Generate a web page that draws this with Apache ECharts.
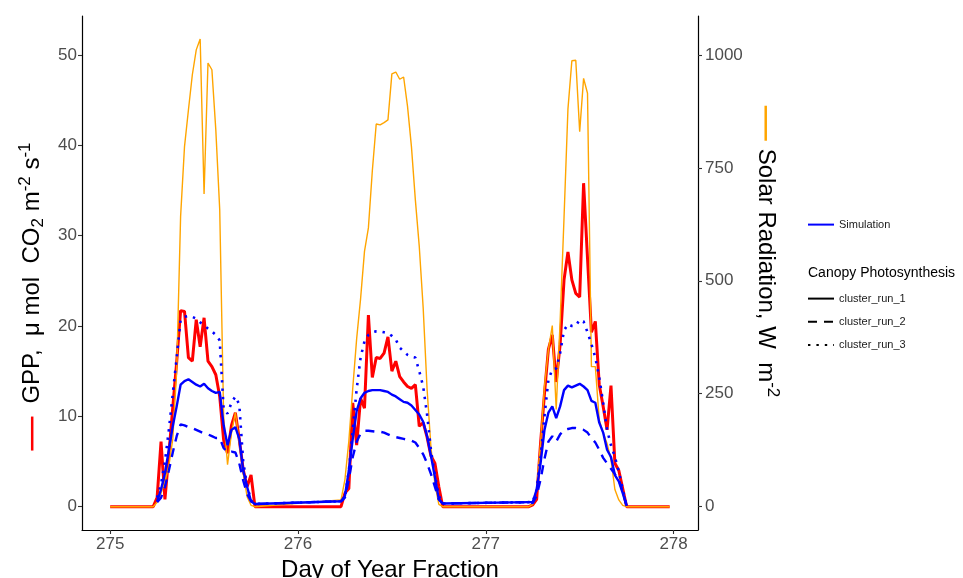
<!DOCTYPE html>
<html>
<head>
<meta charset="utf-8">
<script src="https://cdn.jsdelivr.net/npm/echarts@6/dist/echarts.min.js"></script>
<style>
  html, body { margin: 0; padding: 0; background: #fff; }
  #chart { width: 963px; height: 578px; }
</style>
</head>
<body>
<div id="chart"></div>
<script>
  // half-hourly values, one list per day, starting at slot 11 (05:30)
  const dayStarts = [275, 276, 277]
  const firstSlot = 11
  const seriesStart = 275
  const seriesEnd = 277 + 47 / 48

  const gppObserved = [
    [0, 1.0, 7.2, 0.8, 5.8, 11.0, 16.0, 21.7, 21.6, 16.5, 16.1, 20.7, 17.7, 20.9, 16.1, 15.5, 14.6, 12.2, 7.4, 5.9, 9.0, 10.4, 7.4, 4.1, 2.2, 3.5, 0],
    [0, 1.5, 2.0, 11.5, 6.8, 12.0, 10.9, 21.2, 14.3, 16.5, 16.4, 17.0, 18.8, 15.0, 16.1, 14.4, 13.8, 13.3, 13.1, 13.5, 8.9, 9.3, 7.7, 5.6, 4.8, 2.2, 0],
    [0, 0.2, 0.8, 7.0, 12.5, 17.4, 19.0, 13.8, 17.9, 25.1, 28.2, 25.1, 23.6, 23.2, 35.8, 27.5, 19.3, 20.5, 13.5, 11.1, 8.5, 13.4, 4.8, 4.0, 2.0, 0, 0]
  ]
  const solarRadiation = [
    [0, 10, 30, 55, 90, 150, 300, 642, 797, 878, 956, 1011, 1035, 692, 982, 967, 834, 657, 200, 93, 163, 208, 141, 75, 22, 3, 0],
    [15, 60, 145, 262, 372, 460, 565, 617, 743, 847, 845, 850, 856, 958, 962, 946, 951, 886, 797, 679, 576, 440, 260, 130, 50, 5, 0],
    [0, 5, 38, 141, 266, 347, 401, 215, 410, 640, 880, 987, 988, 830, 948, 915, 310, 310, 192, 163, 140, 104, 38, 15, 3, 0, 0]
  ]
  const clusterRun1 = [
    [null, 0.6, 1.9, 3.7, 6.3, 8.9, 11.1, 13.5, 13.9, 14.1, 13.8, 13.5, 13.3, 13.6, 13.1, 12.8, 12.6, 12.7, 9.0, 6.8, 8.5, 8.8, 7.5, 4.0, 2.2, 0.6, 0.3],
    [0.6, 1.2, 4.0, 7.5, 10.6, 12.0, 12.6, 12.8, 12.9, 12.9, 12.9, 12.8, 12.7, 12.4, 12.2, 11.9, 11.6, 11.5, 11.2, 10.7, 10.2, 9.4, 7.8, 5.6, 3.3, 0.8, 0.35],
    [0.5, 0.5, 1.9, 4.8, 8.5, 10.4, 11.1, 9.8, 11.1, 12.9, 13.4, 13.2, 13.4, 13.6, 13.3, 12.9, 11.7, 11.5, 9.3, 8.2, 6.3, 5.5, 3.5, 2.8, 1.5, 0.1, null]
  ]
  const clusterRun2 = [
    [null, 0.5, 1.0, 2.2, 4.0, 6.0, 7.8, 9.1, 9.0, 8.8, 8.7, 8.5, 8.3, 8.1, 8.0, 7.8, 7.6, 7.6, 6.5, 6.0, 6.1, 6.0, 4.8, 2.9, 1.4, 0.6, 0.3],
    [0.6, 1.0, 3.0, 5.5, 7.2, 8.1, 8.4, 8.4, 8.35, 8.3, 8.3, 8.2, 8.0, 7.8, 7.7, 7.6, 7.5, 7.4, 7.3, 7.1, 6.5, 5.8, 4.8, 3.6, 2.2, 0.8, 0.35],
    [0.5, 0.4, 1.2, 3.0, 5.3, 7.2, 7.8, 7.2, 8.0, 8.5, 8.6, 8.7, 8.7, 8.6, 8.5, 8.2, 7.6, 7.1, 6.3, 5.4, 4.8, 4.2, 3.6, 3.0, 1.7, 0.1, null]
  ]
  const clusterRun3 = [
    [null, 1.0, 2.5, 5.0, 8.5, 12.5, 16.5, 20.7, 21.0, 21.1, 21.0, 20.8, 20.4, 20.1, 19.7, 19.4, 19.0, 18.4, 10.8, 10.3, 11.5, 12.2, 11.3, 5.0, 2.3, 0.7, 0.3],
    [0.6, 1.0, 4.0, 8.5, 13.0, 16.5, 18.3, 19.0, 19.3, 19.4, 19.4, 19.3, 19.2, 18.9, 18.5, 17.6, 17.2, 16.8, 16.6, 16.5, 15.0, 13.3, 10.2, 6.2, 3.5, 1.2, 0.35],
    [0.5, 0.5, 1.9, 5.5, 10.0, 14.0, 15.2, 15.3, 17.0, 19.5, 20.2, 20.0, 20.0, 20.7, 20.5, 19.3, 18.0, 16.5, 14.3, 11.5, 8.5, 6.8, 5.5, 3.9, 1.9, 0.1, null]
  ]

  const xTicks = [275, 276, 277, 278]
  const gppTicks = [0, 10, 20, 30, 40, 50]
  const solarTicks = [0, 250, 500, 750, 1000]

  function toPoints (days) {
    const pts = []
    days.forEach((vals, d) => {
      vals.forEach((v, i) => {
        if (v !== null) pts.push([dayStarts[d] + (firstSlot + i) / 48, v])
      })
    })
    return pts
  }
  function withNightEnds (pts) {
    return [[seriesStart, 0]].concat(pts, [[seriesEnd, 0]])
  }

  const tickColor = '#4D4D4D'
  const labelFont = { color: tickColor, fontSize: 17, fontFamily: 'Liberation Sans', formatter: v => String(v) }
  const axisLine = { show: true, onZero: false, lineStyle: { color: '#000', width: 1.2 } }
  const axisTick = { show: true, length: 4, lineStyle: { color: '#333', width: 1.1 } }
  const legendText = { fontSize: 11, color: '#1a1a1a', fontFamily: 'Liberation Sans' }
  const blackKey = name => ({ name: name, itemStyle: { color: '#000', opacity: 0 }, lineStyle: { color: '#000' } })

  const titleRich = (lineColor, lineLen, gap) => ({
    t: { fontSize: 24, color: '#000', fontFamily: 'Liberation Sans', lineHeight: 30 },
    sub: { fontSize: 17, color: '#000', fontFamily: 'Liberation Sans', verticalAlign: 'bottom' },
    sup: { fontSize: 17, color: '#000', fontFamily: 'Liberation Sans', verticalAlign: 'top' },
    ln: { width: lineLen, height: 2.5, backgroundColor: lineColor },
    gp: { width: gap },
    pd: { width: lineLen + gap }
  })

  const chart = echarts.init(document.getElementById('chart'))
  const option = {
    animation: false,
    backgroundColor: '#fff',
    grid: { left: 82, right: 265, top: 16, bottom: 48, outerBoundsMode: 'none' },
    title: {
      text: 'Canopy Photosynthesis',
      left: 803,
      top: 261,
      textStyle: { fontSize: 14, fontWeight: 'normal', color: '#000', fontFamily: 'Liberation Sans' }
    },
    legend: [
      {
        data: [{ name: 'Simulation', itemStyle: { opacity: 0 } }],
        left: 802,
        top: 214,
        itemWidth: 26,
        itemHeight: 14,
        selectedMode: false,
        textStyle: legendText
      },
      {
        data: [blackKey('cluster_run_1'), blackKey('cluster_run_2'), blackKey('cluster_run_3')],
        orient: 'vertical',
        left: 802,
        top: 288,
        itemGap: 9,
        itemWidth: 26,
        itemHeight: 14,
        selectedMode: false,
        textStyle: legendText
      }
    ],
    xAxis: {
      type: 'value',
      min: 274.85,
      max: 278.13,
      name: 'Day of Year Fraction',
      nameLocation: 'middle',
      nameGap: 27,
      nameTextStyle: { fontSize: 24, color: '#000', fontFamily: 'Liberation Sans' },
      axisLine: axisLine,
      axisTick: Object.assign({ customValues: xTicks }, axisTick),
      axisLabel: Object.assign({ customValues: xTicks, margin: 6 }, labelFont),
      splitLine: { show: false }
    },
    yAxis: [
      {
        type: 'value',
        min: -2.58,
        max: 54.3,
        position: 'left',
        name: '{ln|}{gp|}{t|GPP,  μ mol  CO}{sub|2}{t| m}{sup|-2}{t| s}{sup|-1}{pd|}',
        nameLocation: 'middle',
        nameRotate: 90,
        nameGap: 29,
        nameTextStyle: { rich: titleRich('#FF0000', 34, 13) },
        axisLine: axisLine,
        axisTick: Object.assign({ customValues: gppTicks }, axisTick),
        axisLabel: Object.assign({ customValues: gppTicks, margin: 5 }, labelFont),
        splitLine: { show: false }
      },
      {
        type: 'value',
        min: -51.6,
        max: 1086,
        position: 'right',
        name: '{ln|}{gp|}{t|Solar Radiation, W  m}{sup|-2}{pd|}',
        nameLocation: 'middle',
        nameRotate: -90,
        nameGap: 49,
        nameTextStyle: { rich: titleRich('#FFA500', 35, 8) },
        axisLine: axisLine,
        axisTick: Object.assign({ customValues: solarTicks }, axisTick),
        axisLabel: Object.assign({ customValues: solarTicks, margin: 7 }, labelFont),
        splitLine: { show: false }
      }
    ],
    series: [
      {
        name: 'GPP observed',
        type: 'line',
        yAxisIndex: 0,
        symbol: 'none',
        data: withNightEnds(toPoints(gppObserved)),
        lineStyle: { color: '#FF0000', width: 3 },
        itemStyle: { color: '#FF0000' }
      },
      {
        name: 'Solar radiation',
        type: 'line',
        yAxisIndex: 1,
        symbol: 'none',
        data: withNightEnds(toPoints(solarRadiation)),
        lineStyle: { color: '#FFA500', width: 1.4 },
        itemStyle: { color: '#FFA500' }
      },
      {
        name: 'Simulation',
        type: 'line',
        symbol: 'none',
        data: [],
        lineStyle: { color: '#0000FF', width: 2.4 },
        itemStyle: { color: '#0000FF' }
      },
      {
        name: 'cluster_run_1',
        type: 'line',
        symbol: 'none',
        data: toPoints(clusterRun1),
        lineStyle: { color: '#0000FF', width: 2.4, type: 'solid' },
        itemStyle: { color: '#0000FF' }
      },
      {
        name: 'cluster_run_2',
        type: 'line',
        symbol: 'none',
        data: toPoints(clusterRun2),
        lineStyle: { color: '#0000FF', width: 2.4, type: [9, 7] },
        itemStyle: { color: '#0000FF' }
      },
      {
        name: 'cluster_run_3',
        type: 'line',
        symbol: 'none',
        data: toPoints(clusterRun3),
        lineStyle: { color: '#0000FF', width: 2.6, type: [2.4, 6] },
        itemStyle: { color: '#0000FF' }
      }
    ]
  }
  option.legend[1].itemGap = 12
  chart.setOption(option)
</script>
</body>
</html>
